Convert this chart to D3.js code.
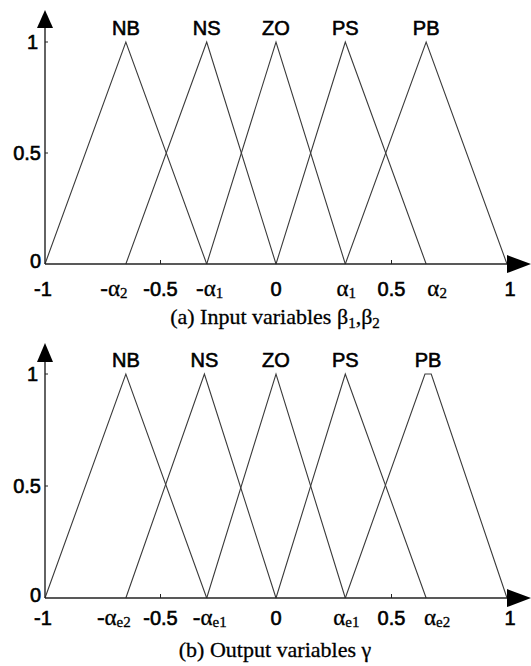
<!DOCTYPE html>
<html>
<head>
<meta charset="utf-8">
<script src="https://cdn.jsdelivr.net/npm/d3@7"></script>
<style>
  body { margin: 0; background: #fff; }
  svg { display: block; }
</style>
</head>
<body>
<div id="chart"></div>
<script>
// fuzzy membership functions, input (a) and output (b)
var svgWidth = 531;
var svgHeight = 666;

var sets = ["NB", "NS", "ZO", "PS", "PB"];
var footLeft = [-1, -0.65, -0.3, 0, 0.3];
var footRight = [-0.3, 0, 0.3, 0.65, 1];
var peakA = [-0.65, -0.3, 0, 0.3, 0.65];
// panel (b) PB has a little flat top in the scan
var peakBLeft = [-0.65, -0.31, 0, 0.3, 0.645];
var peakBRight = [-0.65, -0.31, 0, 0.3, 0.672];

var xTicks = [-1, -0.5, 0, 0.5, 1];
var xTickLabels = ["-1", "-0.5", "0", "0.5", "1"];
var yTicks = [0, 0.5, 1];
var yTickLabels = ["0", "0.5", "1"];

var alphaVals = [-0.65, -0.3, 0.3, 0.65];
var alphaSign = ["-", "-", "", ""];
var alphaSubA = ["2", "1", "1", "2"];
var alphaSubB = ["e2", "e1", "e1", "e2"];

var svg = d3.select("#chart")
  .append("svg")
  .attr("width", svgWidth)
  .attr("height", svgHeight);

var x = d3.scaleLinear()
  .domain([-1, 1])
  .range([45, 507]);

var sans = "Liberation Sans, Arial, sans-serif";
var serif = "Liberation Serif, Times New Roman, serif";

function drawPanel(opt) {
  var y = d3.scaleLinear()
    .domain([0, 1])
    .range([opt.y0, opt.y1]);

  var g = svg.append("g");

  // membership triangles
  var line = d3.line()
    .x(d => x(d[0]))
    .y(d => y(d[1]));

  sets.forEach(function(s, i) {
    var pts = [[footLeft[i], 0], [opt.peakL[i], 1], [opt.peakR[i], 1], [footRight[i], 0]];
    g.append("path")
      .attr("d", line(pts))
      .attr("fill", "none")
      .attr("stroke", "#3a3a3a")
      .attr("stroke-width", 1.1);

    g.append("text")
      .attr("x", x((opt.peakL[i] + opt.peakR[i]) / 2))
      .attr("y", opt.labelY)
      .attr("text-anchor", "middle")
      .attr("font-family", sans)
      .attr("font-size", "20px")
      .attr("fill", "#000")
      .attr("stroke", "#000")
      .attr("stroke-width", 0.6)
      .text(s);
  });

  // axes
  g.append("line")
    .attr("x1", x(-1)).attr("x2", x(1))
    .attr("y1", y(0)).attr("y2", y(0))
    .attr("stroke", "#222").attr("stroke-width", 1.4);
  g.append("line")
    .attr("x1", x(-1)).attr("x2", x(-1))
    .attr("y1", y(0)).attr("y2", opt.arrowBase)
    .attr("stroke", "#222").attr("stroke-width", 1.4);

  // arrow heads
  g.append("path")
    .attr("d", `M${x(-1)},${opt.arrowTip} L${x(-1) - 8},${opt.arrowBase} L${x(-1) + 8},${opt.arrowBase} Z`)
    .attr("fill", "#000");
  g.append("path")
    .attr("d", `M${x(1)},${y(0) - 9} L${x(1) + 24},${y(0)} L${x(1)},${y(0) + 9} Z`)
    .attr("fill", "#000");

  // small tick marks
  g.selectAll(".xt")
    .data([-0.5, 0.5])
    .enter()
    .append("line")
    .attr("x1", d => x(d)).attr("x2", d => x(d))
    .attr("y1", y(0)).attr("y2", y(0) - 4)
    .attr("stroke", "#222");
  g.selectAll(".yt")
    .data([0.5, 1])
    .enter()
    .append("line")
    .attr("x1", x(-1)).attr("x2", x(-1) + 3)
    .attr("y1", d => y(d)).attr("y2", d => y(d))
    .attr("stroke", "#222");

  // y tick labels
  g.selectAll(".ylab")
    .data(yTicks)
    .enter()
    .append("text")
    .attr("x", (d, i) => x(-1) - (d === 1 ? 7 : 4))
    .attr("y", d => y(d) - (d === 0 ? 3 : 0))
    .attr("dy", "0.35em")
    .attr("text-anchor", "end")
    .attr("font-family", sans)
    .attr("font-size", "20px")
    .attr("stroke", "#000")
    .attr("stroke-width", 0.6)
    .text((d, i) => yTickLabels[i]);

  // x tick labels
  g.selectAll(".xlab")
    .data(xTicks)
    .enter()
    .append("text")
    .attr("x", (d, i) => x(d) + (d === -1 ? -2 : 0) + (d === 1 ? 3 : 0))
    .attr("y", opt.tickY)
    .attr("text-anchor", "middle")
    .attr("font-family", sans)
    .attr("font-size", "20px")
    .attr("stroke", "#000")
    .attr("stroke-width", 0.6)
    .text((d, i) => xTickLabels[i]);

  // alpha labels
  alphaVals.forEach(function(v, i) {
    var shift = Math.abs(v) > 0.5 ? (v < 0 ? -12 : 11) : (v < 0 ? 3 : 1);
    var t = g.append("text")
      .attr("x", x(v) + shift)
      .attr("y", opt.tickY)
      .attr("text-anchor", "middle")
      .attr("font-family", serif)
      .attr("font-size", "23px")
      .attr("stroke", "#000")
      .attr("stroke-width", 0.3);
    t.append("tspan").text(alphaSign[i] + "α");
    t.append("tspan")
      .attr("font-size", "15px")
      .attr("dy", 2)
      .text(opt.sub[i]);
  });

  // caption
  var cap = g.append("text")
    .attr("x", 275)
    .attr("y", opt.capY)
    .attr("text-anchor", "middle")
    .attr("font-family", serif)
    .attr("font-size", "22px")
    .attr("stroke", "#000")
    .attr("stroke-width", 0.3);
  opt.caption.forEach(function(c) {
    var ts = cap.append("tspan").text(c[0]);
    if (c[1] === "sub") ts.attr("font-size", "15px").attr("dy", 4);
    if (c[1] === "up") ts.attr("dy", -4);
  });
}

drawPanel({
  y0: 264, y1: 42,
  arrowTip: 10, arrowBase: 28,
  labelY: 35, tickY: 296, capY: 324,
  peakL: peakA, peakR: peakA,
  sub: alphaSubA,
  caption: [["(a) Input variables β", ""], ["1", "sub"], [",β", "up"], ["2", "sub"]]
});

drawPanel({
  y0: 598, y1: 374,
  arrowTip: 343, arrowBase: 362,
  labelY: 367, tickY: 625, capY: 657,
  peakL: peakBLeft, peakR: peakBRight,
  sub: alphaSubB,
  caption: [["(b) Output variables γ", ""]]
});
</script>
</body>
</html>
